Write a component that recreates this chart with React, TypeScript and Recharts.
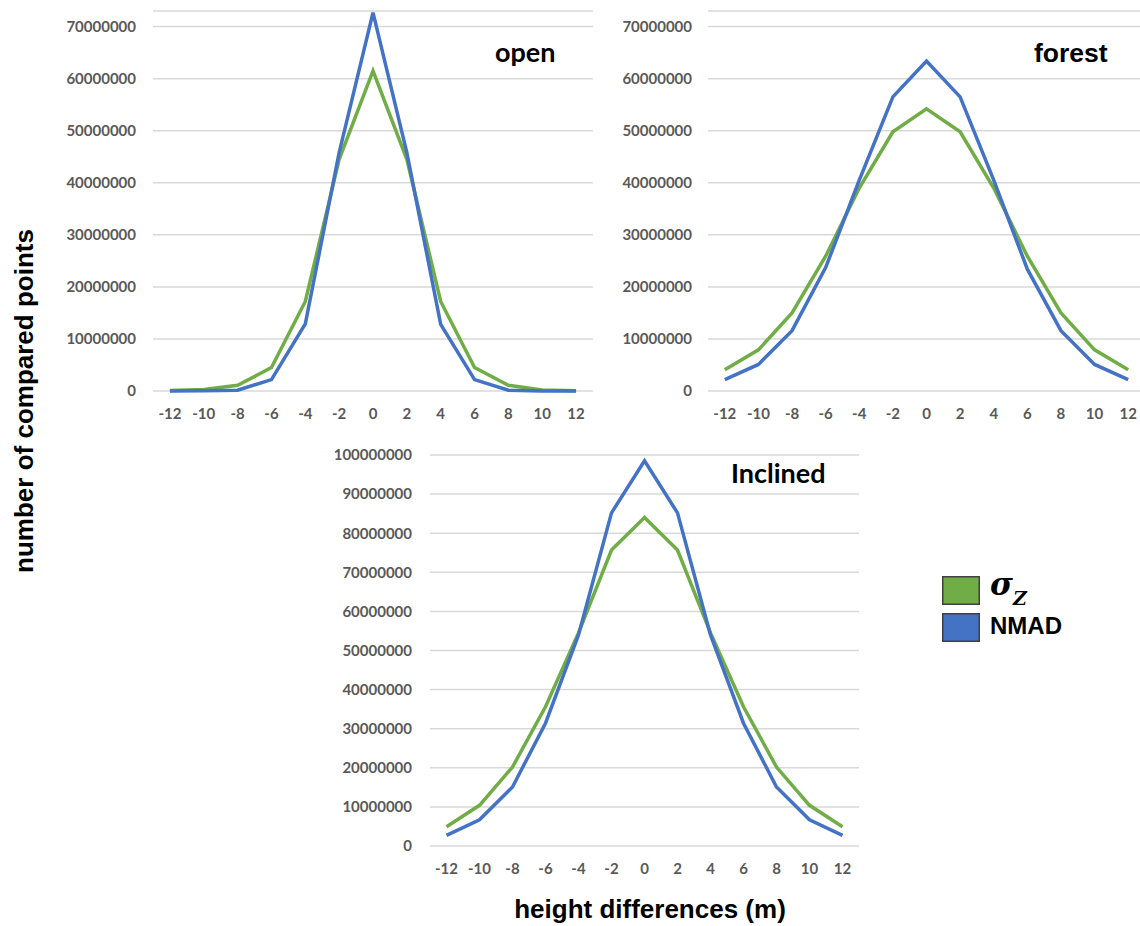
import React from 'react';
import { LineChart, Line, XAxis, YAxis, CartesianGrid, Legend } from 'recharts';

const heightDiffs = [-12, -10, -8, -6, -4, -2, 0, 2, 4, 6, 8, 10, 12];
const xTicks = [-12, -10, -8, -6, -4, -2, 0, 2, 4, 6, 8, 10, 12];

const openSigma = [100000, 300000, 1100000, 4500000, 17200000, 44500000, 61500000, 44500000, 17200000, 4500000, 1100000, 200000, 50000];
const openNmad = [0, 50000, 150000, 2200000, 12900000, 45800000, 72700000, 45800000, 12800000, 2200000, 150000, 0, 0];

const forestSigma = [4100000, 7900000, 15000000, 25900000, 39000000, 49800000, 54200000, 49800000, 39000000, 25900000, 15000000, 7900000, 4100000];
const forestNmad = [2200000, 5100000, 11600000, 23700000, 40500000, 56500000, 63400000, 56500000, 40500000, 23400000, 11600000, 5100000, 2200000];

const inclinedSigma = [4900000, 10400000, 20200000, 35600000, 54500000, 75700000, 84000000, 75700000, 54500000, 35600000, 20200000, 10400000, 4900000];
const inclinedNmad = [2700000, 6700000, 15100000, 31400000, 54000000, 85200000, 98500000, 85200000, 54000000, 31400000, 15100000, 6700000, 2700000];

const yTicks70 = [0, 10000000, 20000000, 30000000, 40000000, 50000000, 60000000, 70000000];
const yTicks100 = [0, 10000000, 20000000, 30000000, 40000000, 50000000, 60000000, 70000000, 80000000, 90000000, 100000000];

const seriesOrder = ['sigma', 'nmad'];

const GREEN = '#70AD47';
const BLUE = '#4472C4';

const build = (s: number[], n: number[]) =>
  heightDiffs.map((h, i) => ({ h, sigma: s[i], nmad: n[i] }));

const openData = build(openSigma, openNmad);
const forestData = build(forestSigma, forestNmad);
const inclinedData = build(inclinedSigma, inclinedNmad);

const tickStyle = { fill: '#595959', fontFamily: 'Lato', fontWeight: 700, fontSize: 15 };

const renderLegend = (props: any) => {
  const payload = [...(props.payload || [])].sort(
    (a: any, b: any) => seriesOrder.indexOf(a.dataKey) - seriesOrder.indexOf(b.dataKey)
  );
  const off = 12;
  return (
    <svg width={200} height={100} style={{ display: 'block', overflow: 'visible' }}>
      {payload.map((entry: any, i: number) => {
        const y = off + i * 37;
        const isSigma = entry.dataKey === 'sigma';
        return (
          <g key={i}>
            <rect x={0.75} y={y + 0.75} width={36.5} height={27.5} fill={entry.color} stroke="#404040" strokeWidth={1.5} />
            {isSigma ? (
              <text x={48} y={y + 19} fontFamily="DejaVu Serif" fontStyle="italic" fontWeight={700} fontSize={31} fill="#000">
                σ
                <tspan x={71} y={y + 29} fontSize={19}>Z</tspan>
              </text>
            ) : (
              <text x={48} y={y + 21} fontFamily="Liberation Sans" fontWeight={700} fontSize={24} fill="#000">
                {entry.value}
              </text>
            )}
          </g>
        );
      })}
    </svg>
  );
};

export default function App() {
  return (
    <div style={{ position: 'absolute', left: 0, top: 0, width: 1140, height: 926, overflow: 'hidden', background: '#fff' }}>
      <div style={{ position: 'absolute', left: 0, top: 0 }}>
        <LineChart width={600} height={430} data={openData} margin={{ top: 11, right: 7, left: 0, bottom: 0 }}>
          <CartesianGrid vertical={false} stroke="#D9D9D9" strokeWidth={1.5} />
          <XAxis dataKey="h" type="number" domain={[-13, 13]} ticks={xTicks} axisLine={false} tickLine={false} tick={tickStyle} tickMargin={11} height={39} interval={0} />
          <YAxis type="number" domain={[0, 73000000]} ticks={yTicks70} axisLine={false} tickLine={false} tick={tickStyle} tickMargin={11} width={153} interval={0} />
          <Line type="linear" dataKey="sigma" name="σZ" stroke={GREEN} strokeWidth={3.5} dot={false} isAnimationActive={false} />
          <Line type="linear" dataKey="nmad" name="NMAD" stroke={BLUE} strokeWidth={3.5} dot={false} isAnimationActive={false} />
        </LineChart>
      </div>
      <div style={{ position: 'absolute', left: 560, top: 0 }}>
        <LineChart width={590} height={430} data={forestData} margin={{ top: 11, right: 5, left: 0, bottom: 0 }}>
          <CartesianGrid vertical={false} stroke="#D9D9D9" strokeWidth={1.5} />
          <XAxis dataKey="h" type="number" domain={[-13, 13]} ticks={xTicks} axisLine={false} tickLine={false} tick={tickStyle} tickMargin={11} height={39} interval={0} />
          <YAxis type="number" domain={[0, 73000000]} ticks={yTicks70} axisLine={false} tickLine={false} tick={tickStyle} tickMargin={10} width={148} interval={0} />
          <Line type="linear" dataKey="sigma" name="σZ" stroke={GREEN} strokeWidth={3.5} dot={false} isAnimationActive={false} />
          <Line type="linear" dataKey="nmad" name="NMAD" stroke={BLUE} strokeWidth={3.5} dot={false} isAnimationActive={false} />
        </LineChart>
      </div>
      <div style={{ position: 'absolute', left: 300, top: 430 }}>
        <LineChart width={840} height={496} data={inclinedData} margin={{ top: 25, right: 281, left: 0, bottom: 0 }}>
          <CartesianGrid vertical={false} stroke="#D9D9D9" strokeWidth={1.5} />
          <XAxis dataKey="h" type="number" domain={[-13, 13]} ticks={xTicks} axisLine={false} tickLine={false} tick={tickStyle} tickMargin={11} height={80} interval={0} />
          <YAxis type="number" domain={[0, 100000000]} ticks={yTicks100} axisLine={false} tickLine={false} tick={tickStyle} tickMargin={12} width={130} interval={0} />
          <Legend layout="vertical" align="center" verticalAlign="middle" content={renderLegend} wrapperStyle={{ left: 642, top: 134, width: 200, height: 100 }} />
          <Line type="linear" dataKey="sigma" name="σZ" stroke={GREEN} strokeWidth={3.5} dot={false} isAnimationActive={false} />
          <Line type="linear" dataKey="nmad" name="NMAD" stroke={BLUE} strokeWidth={3.5} dot={false} isAnimationActive={false} />
        </LineChart>
      </div>
      <svg width={1140} height={926} style={{ position: 'absolute', left: 0, top: 0, pointerEvents: 'none' }}>
        <text x={495} y={62} fontFamily="Lato" fontWeight={700} fontSize={27} fill="#000">open</text>
        <text x={1034} y={62} fontFamily="Liberation Sans" fontWeight={700} fontSize={26.5} fill="#000">forest</text>
        <text x={731} y={483} fontFamily="Lato" fontWeight={700} fontSize={27} fill="#000">Inclined</text>
        <text x={650} y={918} textAnchor="middle" fontFamily="Liberation Sans" fontWeight={700} fontSize={26} fill="#000">height differences (m)</text>
        <text x={33} y={401} textAnchor="middle" transform="rotate(-90 33 401)" fontFamily="Liberation Sans" fontWeight={700} fontSize={26} fill="#000">number of compared points</text>
      </svg>
    </div>
  );
}
